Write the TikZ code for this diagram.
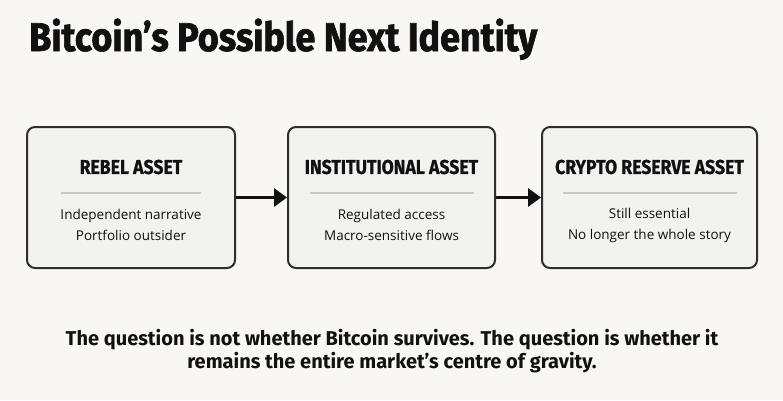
\documentclass[tikz,border=0pt]{standalone}
\usepackage{fontspec}
\setmainfont{Open Sans}
\newfontfamily\titlefont{Fira Sans}[FakeStretch=0.90,BoldFeatures={FakeBold=1.6}]
\newfontfamily\headfont{Fira Sans}[FakeStretch=0.88,BoldFeatures={FakeBold=0.8}]
\newfontfamily\notefont{Fira Sans}
\usetikzlibrary{arrows.meta,positioning}
\definecolor{bg}{HTML}{F8F7F3}
\definecolor{boxfill}{HTML}{F2F2F1}
\definecolor{edge}{HTML}{2E2E2E}
\definecolor{rule}{HTML}{C9C9C9}
\definecolor{ink}{HTML}{111111}

\begin{document}
\begin{tikzpicture}[
    x=1pt,y=-1pt,
    stage/.style={rectangle,draw=edge,fill=boxfill,rounded corners=8pt,line width=2pt,minimum height=141pt},
    head/.style={font=\headfont\bfseries\fontsize{20}{24}\selectfont,text=ink},
    body/.style={font=\fontsize{13.5}{21}\selectfont,align=center,text=ink},
    arr/.style={-{Triangle[length=13pt,width=18pt]},line width=3.5pt,ink},
]
\fill[bg] (0,0) rectangle (783,400);
\useasboundingbox (0,0) rectangle (783,400);

% Title
\node[anchor=base west,inner sep=0pt,font=\titlefont\bfseries\fontsize{40}{46}\selectfont,text=ink] (title) at (29,51) {Bitcoin’s Possible Next Identity};

% Stages
\node[stage,minimum width=208pt] (reb) at (131,197.5) {};
\node[stage,minimum width=207pt] (inst) at (391.5,197.5) {};
\node[stage,minimum width=215pt] (resv) at (649.5,197.5) {};

% Headers
\node[head] (rebh) at (131,167) {REBEL ASSET};
\node[head] (insth) at (391.5,167) {INSTITUTIONAL ASSET};
\node[head] (resvh) at (649.5,167) {CRYPTO RESERVE ASSET};

% Separators
\draw[rule,line width=1.5pt] ([xshift=-70pt,yshift=-26pt]rebh.center) -- ([xshift=70pt,yshift=-26pt]rebh.center);
\draw[rule,line width=1.5pt] ([xshift=-82pt,yshift=-26pt]insth.center) -- ([xshift=82pt,yshift=-26pt]insth.center);
\draw[rule,line width=1.5pt] ([xshift=-87pt,yshift=-26pt]resvh.center) -- ([xshift=87pt,yshift=-26pt]resvh.center);

% Bodies
\node[body] (rebb) at (131,225) {Independent narrative\\Portfolio outsider};
\node[body] (instb) at (391.5,225) {Regulated access\\Macro-sensitive flows};
\node[body] (resvb) at (649.5,225) {Still essential\\No longer the whole story};

% Arrows
\draw[arr] (reb.east) -- (inst.west);
\draw[arr] (inst.east) -- (resv.west);

% Closing note
\node[font=\notefont\bfseries\fontsize{20}{22.5}\selectfont,align=center,text=ink] (note) at (392,351) {The question is not whether Bitcoin survives. The question is whether it\\remains the entire market’s centre of gravity.};
\end{tikzpicture}
\end{document}
